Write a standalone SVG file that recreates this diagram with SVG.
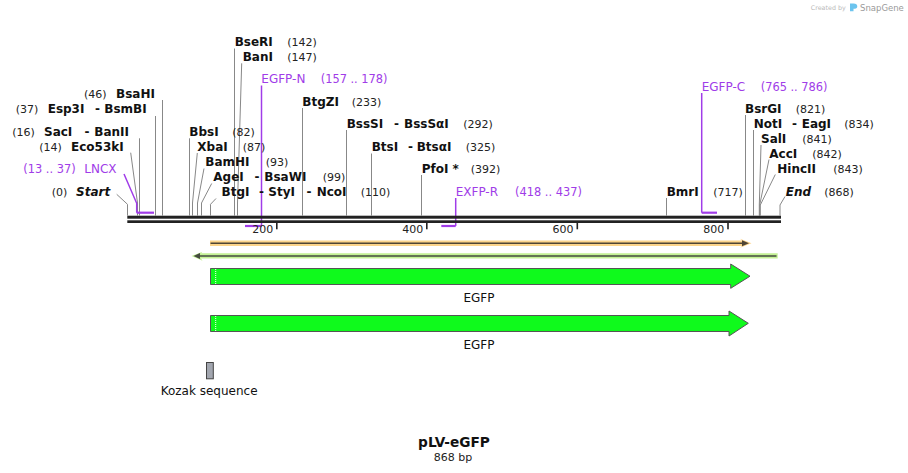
<svg xmlns="http://www.w3.org/2000/svg" width="908" height="473" viewBox="0 0 908 473">
<style>
text{font-family:"DejaVu Sans",Verdana,sans-serif}
.n{font-size:12px;font-weight:bold;fill:#111}
.bi{font-size:12px;font-weight:bold;font-style:italic;fill:#111}
.p{font-size:11px;font-weight:normal;fill:#222}
.pr{font-size:12px;fill:#a03ce8}
.prn{font-size:11.4px;fill:#a03ce8}
.ld{stroke:#888;stroke-width:1;fill:none}
.pl{stroke:#a03ce8;stroke-width:1.5;fill:none}
.pb{stroke:#a03ce8;stroke-width:2.2;fill:none}
.tk{fill:#222}
.tl{font-size:11px;fill:#222;text-anchor:end}
.cds{fill:#0ffa1c;stroke:#555;stroke-width:1}
.lbl{font-size:12px;fill:#111;text-anchor:middle}
</style>

<g id="connectors">
<path class="ld" d="M116.7,194.3 L127.5,204.3 V215.5"/>
<path class="ld" d="M130.7,152.7 L137.5,203 V215.5"/>
<path class="ld" d="M139.5,138.3 V215.5"/>
<path class="ld" d="M155.5,116 V215.5"/>
<path class="ld" d="M162.5,100 V215.5"/>
<path class="ld" d="M189.5,138.3 V215.5"/>
<path class="ld" d="M197.3,153 L192.5,203 V215.5"/>
<path class="ld" d="M204,168.5 L197.5,203 V215.5"/>
<path class="ld" d="M211.7,183.5 L201.5,203 V215.5"/>
<path class="ld" d="M216,198.5 L210.5,204.3 V215.5"/>
<path class="ld" d="M234.5,48.5 V215.5"/>
<path class="ld" d="M241.7,63.3 L237.5,203 V215.5"/>
<path class="ld" d="M302.5,108 V215.5"/>
<path class="ld" d="M346.5,130 V215.5"/>
<path class="ld" d="M371.5,153.5 V215.5"/>
<path class="ld" d="M421.5,175 V215.5"/>
<path class="ld" d="M666.5,198 V215.5"/>
<path class="ld" d="M745.5,115 V215.5"/>
<path class="ld" d="M753.5,130 V215.5"/>
<path class="ld" d="M761,145 L759.3,205 V215.5"/>
<path class="ld" d="M769,159.5 L759.7,205 V215.5"/>
<path class="ld" d="M775.3,174.5 L760.3,205 V215.5"/>
<path class="ld" d="M785,196.5 L780,205 V215.5"/>
<path class="pl" d="M124,174 L136.7,203.3 V212.7"/>
<path class="pb" d="M136.7,212.7 H154"/>
<path class="pl" d="M261.5,85.5 V226"/>
<path class="pb" d="M245,226 H261.5"/>
<path class="pl" d="M455.7,198 V226"/>
<path class="pb" d="M441.3,226 H455.7"/>
<path class="pl" d="M701.7,93 V212.7"/>
<path class="pb" d="M701.7,212.7 H717"/>
</g>

<g id="backbone">
<rect x="127.3" y="215.7" width="653.7" height="3" fill="#222"/>
<rect x="127.3" y="220.3" width="653.7" height="2.7" fill="#222"/>
<rect class="tk" x="276" y="222.7" width="1.6" height="6.6"/>
<rect class="tk" x="426" y="222.7" width="1.6" height="6.6"/>
<rect class="tk" x="576.5" y="222.7" width="1.6" height="6.6"/>
<rect class="tk" x="727.2" y="222.7" width="1.6" height="6.6"/>
<text class="tl" x="273.3" y="232.5">200</text>
<text class="tl" x="423.3" y="232.5">400</text>
<text class="tl" x="573.5" y="232.5">600</text>
<text class="tl" x="724.2" y="232.5">800</text>
</g>

<g id="site-start"><text y="196"><tspan class="p" x="51.7">(0)</tspan><tspan class="bi" x="76">Start</tspan></text></g>
<g id="site-eco53ki"><text y="150.7"><tspan class="p" x="39.3">(14)</tspan><tspan class="n" x="71">Eco53kI</tspan></text></g>
<g id="site-saci"><text y="135.7"><tspan class="p" x="12.3">(16)</tspan><tspan class="n" x="44">SacI</tspan><tspan class="n" x="84.5">-</tspan><tspan class="n" x="94.3">BanII</tspan></text></g>
<g id="site-esp3i"><text y="113.3"><tspan class="p" x="15.7">(37)</tspan><tspan class="n" x="47.7">Esp3I</tspan><tspan class="n" x="95">-</tspan><tspan class="n" x="104.3">BsmBI</tspan></text></g>
<g id="site-bsahi"><text y="97.7"><tspan class="p" x="84">(46)</tspan><tspan class="n" x="116">BsaHI</tspan></text></g>
<g id="primer-lncx"><text y="172.7"><tspan class="prn" x="23.3">(13 .. 37)</tspan><tspan class="pr" x="84.3">LNCX</tspan></text></g>
<g id="site-bbsi"><text y="135.7"><tspan class="n" x="189.3">BbsI</tspan><tspan class="p" x="232.3">(82)</tspan></text></g>
<g id="site-xbai"><text y="150.7"><tspan class="n" x="197.3">XbaI</tspan><tspan class="p" x="242.7">(87)</tspan></text></g>
<g id="site-bamhi"><text y="166.2"><tspan class="n" x="205.3">BamHI</tspan><tspan class="p" x="265.7">(93)</tspan></text></g>
<g id="site-agei"><text y="181"><tspan class="n" x="213.3">AgeI</tspan><tspan class="n" x="254.5">-</tspan><tspan class="n" x="264.3">BsaWI</tspan><tspan class="p" x="322.7">(99)</tspan></text></g>
<g id="site-btgi"><text y="196"><tspan class="n" x="221.5">BtgI</tspan><tspan class="n" x="259">-</tspan><tspan class="n" x="268.3">StyI</tspan><tspan class="n" x="306.5">-</tspan><tspan class="n" x="316.7">NcoI</tspan><tspan class="p" x="360.7">(110)</tspan></text></g>
<g id="site-bseri"><text y="46"><tspan class="n" x="234.7">BseRI</tspan><tspan class="p" x="287.3">(142)</tspan></text></g>
<g id="site-bani"><text y="60.7"><tspan class="n" x="242.7">BanI</tspan><tspan class="p" x="287.3">(147)</tspan></text></g>
<g id="primer-egfp-n"><text y="83.3"><tspan class="pr" x="261.3">EGFP-N</tspan><tspan class="prn" x="320.7">(157 .. 178)</tspan></text></g>
<g id="site-btgzi"><text y="106"><tspan class="n" x="302.3">BtgZI</tspan><tspan class="p" x="351.7">(233)</tspan></text></g>
<g id="site-bsssi"><text y="127.5"><tspan class="n" x="346.7">BssSI</tspan><tspan class="n" x="394">-</tspan><tspan class="n" x="404">BssSαI</tspan><tspan class="p" x="463.3">(292)</tspan></text></g>
<g id="site-btsi"><text y="150.7"><tspan class="n" x="371.7">BtsI</tspan><tspan class="n" x="408">-</tspan><tspan class="n" x="416.7">BtsαI</tspan><tspan class="p" x="465.7">(325)</tspan></text></g>
<g id="site-pfoi"><text y="172.7"><tspan class="n" x="421.7">PfoI *</tspan><tspan class="p" x="470.7">(392)</tspan></text></g>
<g id="primer-exfp-r"><text y="196"><tspan class="pr" x="455.7">EXFP-R</tspan><tspan class="prn" x="515">(418 .. 437)</tspan></text></g>
<g id="site-bmri"><text y="196"><tspan class="n" x="666.7">BmrI</tspan><tspan class="p" x="713.3">(717)</tspan></text></g>
<g id="primer-egfp-c"><text y="90.7"><tspan class="pr" x="701.7">EGFP-C</tspan><tspan class="prn" x="760.7">(765 .. 786)</tspan></text></g>
<g id="site-bsrgi"><text y="112.7"><tspan class="n" x="745">BsrGI</tspan><tspan class="p" x="795.7">(821)</tspan></text></g>
<g id="site-noti"><text y="127.7"><tspan class="n" x="753.7">NotI</tspan><tspan class="n" x="792">-</tspan><tspan class="n" x="801.7">EagI</tspan><tspan class="p" x="844.3">(834)</tspan></text></g>
<g id="site-sali"><text y="142.7"><tspan class="n" x="761">SalI</tspan><tspan class="p" x="802.3">(841)</tspan></text></g>
<g id="site-acci"><text y="157.7"><tspan class="n" x="769.3">AccI</tspan><tspan class="p" x="812.3">(842)</tspan></text></g>
<g id="site-hincii"><text y="172.7"><tspan class="n" x="777.3">HincII</tspan><tspan class="p" x="833.3">(843)</tspan></text></g>
<g id="site-end"><text y="196"><tspan class="bi" x="785.7">End</tspan><tspan class="p" x="824.3">(868)</tspan></text></g>

<g id="feature-orange">
<path d="M210,240.5 H742 L740,238.8 L751.5,243.3 L740,247.8 L742,246 H210 Z" fill="#fcd48a"/>
<path d="M210.5,243.3 H744" stroke="#4f4535" stroke-width="1.6"/>
<path d="M742,240.3 L749,243.3 L742,246.3 Z" fill="#4f4535"/>
</g>
<g id="feature-green">
<path d="M777.7,253.3 H201 L202.5,251.8 L191.5,256 L202.5,260.8 L201,258.5 H777.7 Z" fill="#c3f194"/>
<path d="M776.5,256 H198" stroke="#454a40" stroke-width="1.6"/>
<path d="M200,253 L193.5,256 L200,259 Z" fill="#454a40"/>
</g>

<g id="egfp-1">
<path class="cds" d="M210.5,268.5 H730.7 V264 L750,276.2 L730.7,288.3 V284.5 H210.5 Z"/>
<line x1="215.7" y1="269" x2="215.7" y2="284" stroke="#fff" stroke-width="1" stroke-dasharray="1,1"/>
<text class="lbl" x="479" y="301.5">EGFP</text>
</g>
<g id="egfp-2">
<path class="cds" d="M210.5,315.5 H729 V311 L748.3,323.3 L729,336 V331.5 H210.5 Z"/>
<line x1="215.7" y1="316" x2="215.7" y2="331" stroke="#fff" stroke-width="1" stroke-dasharray="1,1"/>
<text class="lbl" x="479" y="348.5">EGFP</text>
</g>
<g id="kozak">
<rect x="206.5" y="362.5" width="6.8" height="16.3" fill="#a2a6af" stroke="#444" stroke-width="1"/>
<text x="160.7" y="395" font-size="12" fill="#111">Kozak sequence</text>
</g>

<g id="title">
<text x="454" y="446.7" font-size="13.7" font-weight="bold" fill="#111" text-anchor="middle">pLV-eGFP</text>
<text x="453" y="461" font-size="11" fill="#222" text-anchor="middle">868 bp</text>
</g>

<g id="credit">
<text x="810.7" y="10" font-size="6.4" fill="#bbb">Created by</text>
<path d="M850,3.5 H853.5 Q857.3,3.5 857.3,6.5 Q857.3,8.8 853.5,8.8 V11.3 H850 Z" fill="#6cc4ee"/>
<text x="860" y="11" font-size="8.5" fill="#9a9a9a">SnapGene</text>
</g>
</svg>
